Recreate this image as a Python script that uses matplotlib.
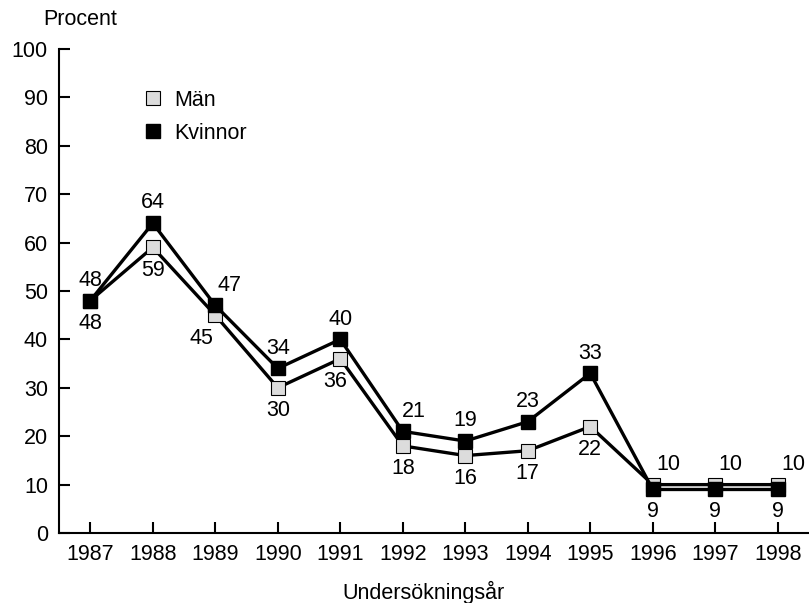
import matplotlib.pyplot as plt

plt.rcParams['font.family'] = ['Liberation Sans', 'DejaVu Sans']

years = [1987, 1988, 1989, 1990, 1991, 1992, 1993, 1994, 1995, 1996, 1997, 1998]
man = [48, 59, 45, 30, 36, 18, 16, 17, 22, 10, 10, 10]
kvinnor = [48, 64, 47, 34, 40, 21, 19, 23, 33, 9, 9, 9]

FS = 15.5

# horizontal nudges (points) for labels that sit beside the line
nudge_top = {1989: 10, 1992: 8}
nudge_bot = {1989: -10, 1991: -4}

fig = plt.figure(figsize=(8.09, 6.03), dpi=100)
ax = fig.add_axes([0.073, 0.116, 0.927, 0.803])

ax.plot(years, man, color='black', lw=2.4, marker='s', ms=10,
        mfc='#dcdcdc', mec='black', mew=0.8, label='Män', zorder=3)
ax.plot(years, kvinnor, color='black', lw=2.4, marker='s', ms=10,
        mfc='black', mec='black', label='Kvinnor', zorder=4)

# value labels
for x, m, k in zip(years, man, kvinnor):
    if m > k:
        # men above, women below
        ax.annotate(str(m), (x, m), xytext=(11, 7), textcoords='offset points',
                    ha='center', va='bottom', fontsize=FS)
        ax.annotate(str(k), (x, k), xytext=(0, -8), textcoords='offset points',
                    ha='center', va='top', fontsize=FS)
    else:
        ax.annotate(str(k), (x, k), xytext=(nudge_top.get(x, 0), 7),
                    textcoords='offset points', ha='center', va='bottom', fontsize=FS)
        ax.annotate(str(m), (x, m), xytext=(nudge_bot.get(x, 0), -9),
                    textcoords='offset points', ha='center', va='top', fontsize=FS)

ax.set_xlim(1986.5, 1998.5)
ax.set_ylim(0, 100)
ax.set_xticks(years)
ax.set_yticks(range(0, 101, 10))
ax.tick_params(direction='in', length=8, width=1.5, labelsize=FS, pad=8)
for s in ['top', 'right']:
    ax.spines[s].set_visible(False)
for s in ['left', 'bottom']:
    ax.spines[s].set_linewidth(1.5)

fig.text(0.053, 0.967, 'Procent', fontsize=FS, ha='left', va='center')
fig.text(0.524, 0.018, 'Undersökningsår', fontsize=FS, ha='center', va='center')

ax.legend(loc='upper left', bbox_to_anchor=(0.09, 0.955), frameon=False,
          fontsize=FS, handlelength=0.7, handletextpad=0.6, labelspacing=0.55,
          numpoints=1)
leg = ax.get_legend()
for h in leg.legend_handles:
    h.set_linestyle('none')
    h.set_markersize(10)

fig.savefig('out.png', dpi=100)
